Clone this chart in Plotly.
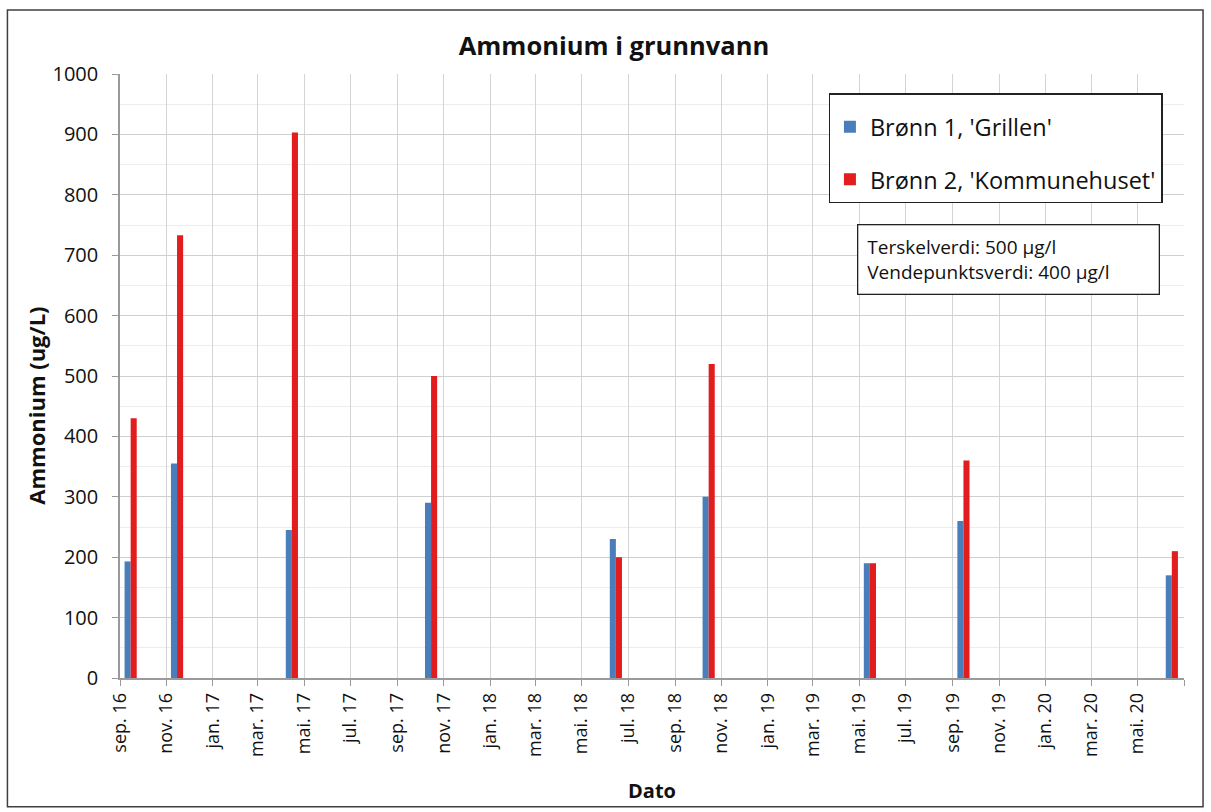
import plotly.graph_objects as go

# Sampling months (mid-month) and ammonium concentrations (µg/L)
sample_dates = [
    "2016-09-15", "2016-11-15", "2017-04-15", "2017-10-15", "2018-06-15",
    "2018-10-15", "2019-05-15", "2019-09-15", "2020-06-15",
]
bronn1_grillen = [193, 355, 245, 290, 230, 300, 190, 260, 170]
bronn2_kommunehuset = [430, 733, 903, 500, 200, 520, 190, 360, 210]

# Bi-monthly date ticks
tick_dates = [
    "2016-09-01", "2016-11-01", "2017-01-01", "2017-03-01", "2017-05-01", "2017-07-01",
    "2017-09-01", "2017-11-01", "2018-01-01", "2018-03-01", "2018-05-01", "2018-07-01",
    "2018-09-01", "2018-11-01", "2019-01-01", "2019-03-01", "2019-05-01", "2019-07-01",
    "2019-09-01", "2019-11-01", "2020-01-01", "2020-03-01", "2020-05-01", "2020-07-01",
]
tick_labels = [
    "sep. 16", "nov. 16", "jan. 17", "mar. 17", "mai. 17", "jul. 17",
    "sep. 17", "nov. 17", "jan. 18", "mar. 18", "mai. 18", "jul. 18",
    "sep. 18", "nov. 18", "jan. 19", "mar. 19", "mai. 19", "jul. 19",
    "sep. 19", "nov. 19", "jan. 20", "mar. 20", "mai. 20", "",
]

BLUE = "#4a7ebb"
RED = "#e21d1d"
FONT = "Open Sans"
TXT = "#111111"
DAY_MS = 86400000
BAR_W = 8 * DAY_MS  # width of one bar, in ms on the date axis

fig = go.Figure()
fig.add_trace(go.Bar(
    x=sample_dates, y=bronn1_grillen, name="Brønn 1, 'Grillen'",
    marker=dict(color=BLUE, line=dict(width=0)),
    width=BAR_W, offset=-BAR_W, legendgroup="b1",
))
fig.add_trace(go.Bar(
    x=sample_dates, y=bronn2_kommunehuset, name="Brønn 2, 'Kommunehuset'",
    marker=dict(color=RED, line=dict(width=0)),
    width=BAR_W, offset=0, legendgroup="b2",
))

fig.update_layout(
    width=1211, height=812,
    margin=dict(l=120, r=27, t=74, b=134),
    paper_bgcolor="white", plot_bgcolor="white",
    barmode="overlay",
    font=dict(family=FONT, color=TXT),
    title=dict(
        text="<b>Ammonium i grunnvann</b>",
        x=0.507, xanchor="center", y=1 - 46 / 812, yanchor="middle",
        font=dict(family=FONT, size=25.5, color=TXT),
    ),
    legend=dict(
        x=0.666, y=0.968, xanchor="left", yanchor="top",
        bgcolor="white", bordercolor="#222222", borderwidth=1.3,
        font=dict(family=FONT, size=23.5, color=TXT),
        title=dict(text=" ", font=dict(size=8)),
        traceorder="grouped", tracegroupgap=19,
    ),
    showlegend=True,
)

fig.update_xaxes(
    type="date",
    range=["2016-09-01", "2020-07-01"],
    tickmode="array", tickvals=tick_dates, ticktext=tick_labels,
    tickangle=-90,
    tickfont=dict(family=FONT, size=18, color=TXT),
    ticks="outside", ticklen=6, tickcolor="#9a9a9a",
    showgrid=True, gridcolor="#d4d4d4", gridwidth=1,
    showline=True, linecolor="#9a9a9a", linewidth=1.5,
    zeroline=False,
    title=dict(text="<b>Dato</b>", font=dict(family=FONT, size=20, color=TXT), standoff=28),
)
fig.update_yaxes(
    range=[0, 1000],
    tickmode="linear", tick0=0, dtick=100,
    tickfont=dict(family=FONT, size=20, color=TXT),
    ticks="outside", ticklen=6, tickcolor="#9a9a9a",
    ticklabelstandoff=10,
    showgrid=True, gridcolor="#cfcfcf", gridwidth=1,
    minor=dict(dtick=50, showgrid=True, gridcolor="#ececec", gridwidth=1),
    showline=True, linecolor="#9a9a9a", linewidth=1.5,
    zeroline=False,
)

# Y-axis title, placed slightly below the plot centre
fig.add_annotation(
    xref="paper", yref="paper", x=-0.0785, y=(677.5 - 405) / 603.5,
    xanchor="center", yanchor="middle",
    text="<b>Ammonium (ug/L)</b>", textangle=-90, showarrow=False,
    font=dict(family=FONT, size=22, color=TXT),
)

# Threshold note box
fig.add_annotation(
    xref="paper", yref="paper", x=0.693, y=0.751, xanchor="left", yanchor="top",
    text="Terskelverdi: 500 µg/l<br>Vendepunktsverdi: 400 µg/l",
    showarrow=False, align="left",
    font=dict(family=FONT, size=19, color=TXT),
    bgcolor="white", bordercolor="#222222", borderwidth=1.3, borderpad=9,
    width=282,
)

# Outer chart frame
fig.add_shape(
    type="rect", xref="paper", yref="paper",
    x0=-0.1058, x1=1.0179, y0=-0.213, y1=1.106,
    line=dict(color="#404040", width=1.5), fillcolor="rgba(0,0,0,0)",
    layer="above",
)

fig.write_html("out.html")
